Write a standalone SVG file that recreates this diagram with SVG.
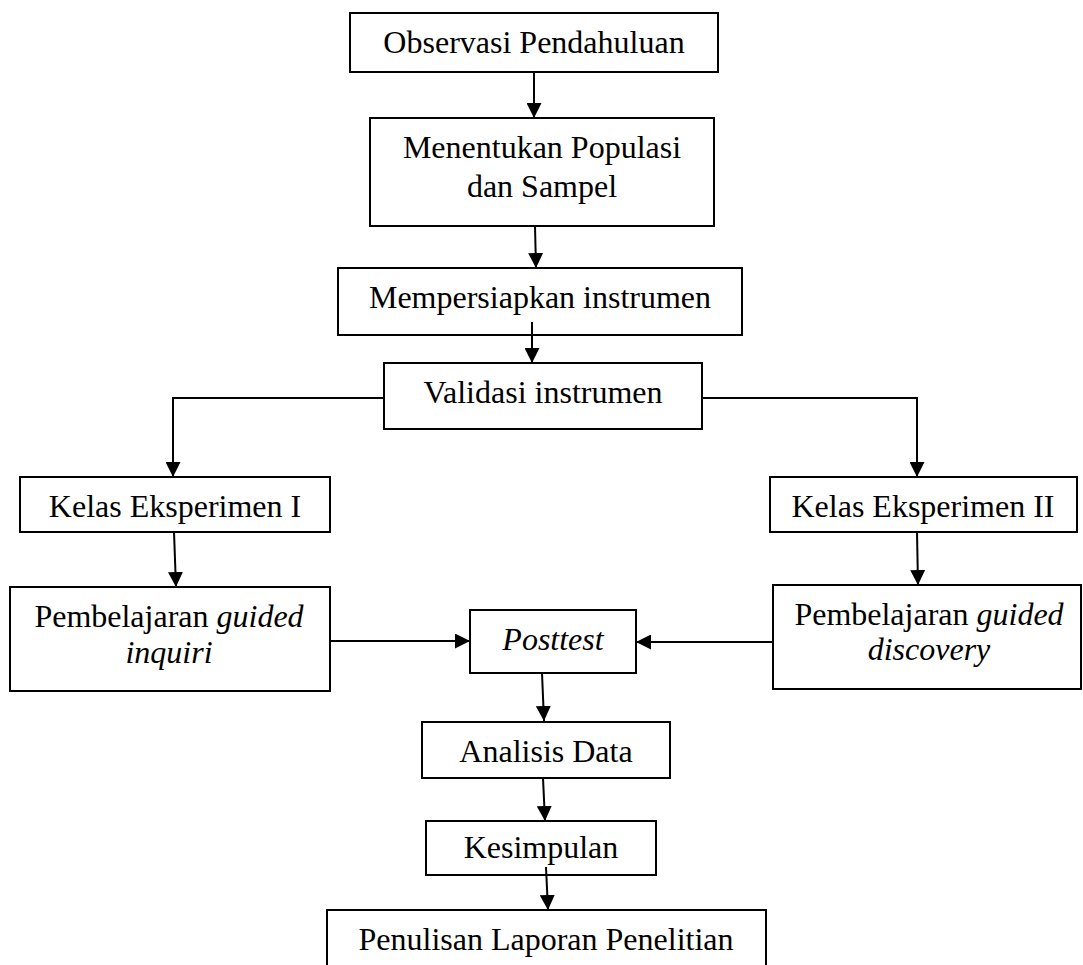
<svg xmlns="http://www.w3.org/2000/svg" width="1083" height="965" viewBox="0 0 1083 965">
<style>
.box{fill:#fff;stroke:#000;stroke-width:2}
.t{font-family:"Liberation Serif","Times New Roman",serif;font-size:32px;fill:#000;text-anchor:middle}
.i{font-style:italic}
.c{fill:none;stroke:#000;stroke-width:2}
</style>
<defs>
<marker id="ah" viewBox="0 0 10 10" refX="10" refY="5" markerWidth="15" markerHeight="15" markerUnits="userSpaceOnUse" orient="auto">
<path d="M0,0 L10,5 L0,10 z" fill="#000"/>
</marker>
</defs>
<rect width="1083" height="965" fill="#fff"/>
<g id="n1"><rect class="box" x="350" y="13" width="368" height="59"/><text class="t" x="534" y="53">Observasi Pendahuluan</text></g>
<g id="n2"><rect class="box" x="370" y="118" width="344" height="108"/><text class="t" x="542" y="158">Menentukan Populasi</text><text class="t" x="542" y="197">dan Sampel</text></g>
<g id="n3"><rect class="box" x="338" y="268" width="404" height="67"/><text class="t" x="540" y="308">Mempersiapkan instrumen</text></g>
<g id="n4"><rect class="box" x="384" y="363" width="318" height="66"/><text class="t" x="543" y="403">Validasi instrumen</text></g>
<g id="n5"><rect class="box" x="20" y="477" width="310" height="55"/><text class="t" x="175" y="517">Kelas Eksperimen I</text></g>
<g id="n6"><rect class="box" x="770" y="477" width="307" height="55"/><text class="t" x="923" y="517">Kelas Eksperimen II</text></g>
<g id="n7"><rect class="box" x="10" y="587" width="320" height="104"/><text class="t" x="169" y="627">Pembelajaran <tspan class="i">guided</tspan></text><text class="t i" x="169" y="663">inquiri</text></g>
<g id="n8"><rect class="box" x="773" y="585" width="308" height="104"/><text class="t" x="929" y="625">Pembelajaran <tspan class="i">guided</tspan></text><text class="t i" x="929" y="660">discovery</text></g>
<g id="n9"><rect class="box" x="470" y="610" width="166" height="63"/><text class="t i" x="553" y="650">Posttest</text></g>
<g id="n10"><rect class="box" x="422" y="722" width="248" height="56"/><text class="t" x="546" y="762">Analisis Data</text></g>
<g id="n11"><rect class="box" x="426" y="821" width="230" height="54"/><text class="t" x="541" y="858">Kesimpulan</text></g>
<g id="n12"><path class="c" d="M327,975 L327,910 L766,910 L766,975"/><text class="t" x="546" y="950">Penulisan Laporan Penelitian</text></g>
<g id="connectors">
<path class="c" d="M534,72 L534,118" marker-end="url(#ah)"/>
<path class="c" d="M535,226 L536,268" marker-end="url(#ah)"/>
<path class="c" d="M532,322 L532,363" marker-end="url(#ah)"/>
<path class="c" d="M384,398 L173,398 L173,477" marker-end="url(#ah)"/>
<path class="c" d="M702,398 L917,398 L917,477" marker-end="url(#ah)"/>
<path class="c" d="M174,532 L176,587" marker-end="url(#ah)"/>
<path class="c" d="M917,532 L918,585" marker-end="url(#ah)"/>
<path class="c" d="M330,641 L470,641" marker-end="url(#ah)"/>
<path class="c" d="M773,642 L636,642" marker-end="url(#ah)"/>
<path class="c" d="M542,673 L544,721" marker-end="url(#ah)"/>
<path class="c" d="M543,778 L545,821" marker-end="url(#ah)"/>
<path class="c" d="M546,867 L548,910" marker-end="url(#ah)"/>
</g>
</svg>
